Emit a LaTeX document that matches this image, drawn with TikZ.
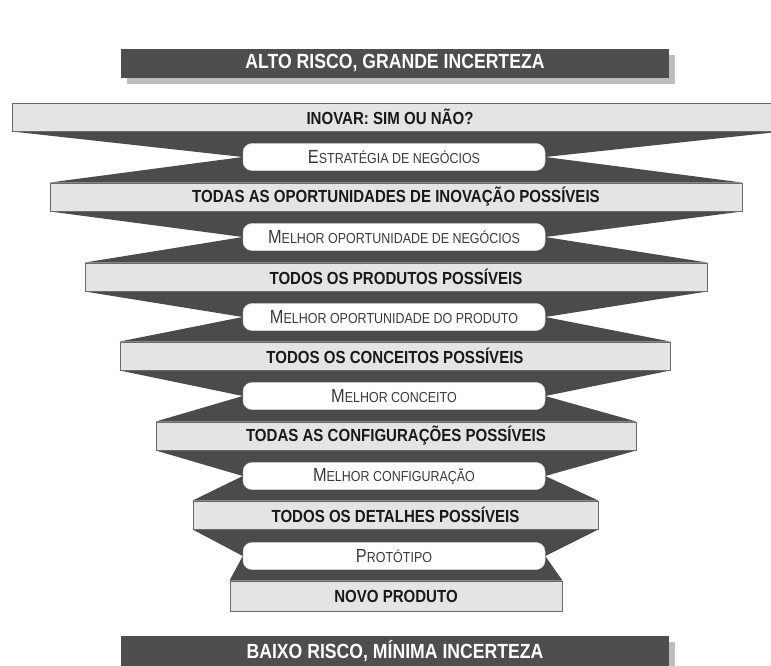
\documentclass[tikz,border=0pt]{standalone}
\usepackage{fontspec}
\setmainfont{Liberation Sans}
\newfontfamily\condfont{Liberation Sans}[FakeStretch=0.86]
\usetikzlibrary{shadows}
\definecolor{darkwedge}{HTML}{4B4B4B}
\definecolor{bandfill}{HTML}{E4E4E4}
\definecolor{bandline}{HTML}{6A6A6A}
\definecolor{bannerfill}{HTML}{4E4E4E}
\definecolor{shadowgray}{HTML}{BDBDBD}
\definecolor{pilltext}{HTML}{3A3A3A}
\pgfdeclarelayer{bg}
\pgfsetlayers{bg,main}
\newcommand\sctext[2]{{\fontsize{19}{19}\selectfont #1}{\fontsize{14.5}{14.5}\selectfont #2}}
\begin{document}
\begin{tikzpicture}[x=1pt,y=-1pt,
  band/.style={draw=bandline, line width=0.9pt, fill=bandfill, inner sep=0pt,
    minimum height=28pt, font=\condfont\fontsize{17.5}{18}\selectfont\bfseries, text=black!90},
  pill/.style={fill=white, draw=black!15, line width=0.5pt, rounded corners=9pt,
    inner sep=0pt, minimum width=302pt, minimum height=27pt, text=pilltext, font=\condfont},
  bannerbox/.style={fill=bannerfill, inner sep=0pt, minimum width=548pt,
    minimum height=29pt, text=white, font=\condfont\fontsize{20.5}{21}\selectfont\bfseries,
    drop shadow={shadow xshift=6pt, shadow yshift=-6pt, fill=shadowgray, opacity=1}},
  wedge/.style={fill=darkwedge}]
\path[use as bounding box] (0,0) rectangle (771,665);
\begin{pgfonlayer}{bg}
\fill[white] (0,0) rectangle (771,665);
\end{pgfonlayer}

% banners
\node[bannerbox] (top) at (395,63) {ALTO RISCO, GRANDE INCERTEZA};
\node[bannerbox, minimum height=31pt] (bottom) at (395,651) {BAIXO RISCO, MÍNIMA INCERTEZA};

% bands
\node[band, minimum width=770pt] (b1) at (397,117) {\hspace*{-14pt}INOVAR: SIM OU NÃO?};
\node[band, minimum width=692pt] (b2) at (396,197) {TODAS AS OPORTUNIDADES DE INOVAÇÃO POSSÍVEIS};
\node[band, minimum width=622pt] (b3) at (396,277) {TODOS OS PRODUTOS POSSÍVEIS};
\node[band, minimum width=550pt] (b4) at (395,356) {TODOS OS CONCEITOS POSSÍVEIS};
\node[band, minimum width=480pt] (b5) at (396,436) {TODAS AS CONFIGURAÇÕES POSSÍVEIS};
\node[band, minimum width=405pt] (b6) at (395.5,515) {TODOS OS DETALHES POSSÍVEIS};
\node[band, minimum width=332pt, minimum height=30pt] (b7) at (396,596) {NOVO PRODUTO};

% pills
\node[pill] (p1) at (394,157) {\sctext{E}{STRATÉGIA DE NEGÓCIOS}};
\node[pill] (p2) at (394,237) {\sctext{M}{ELHOR OPORTUNIDADE DE NEGÓCIOS}};
\node[pill] (p3) at (394,317) {\sctext{M}{ELHOR OPORTUNIDADE DO PRODUTO}};
\node[pill] (p4) at (394,396) {\sctext{M}{ELHOR CONCEITO}};
\node[pill] (p5) at (394,476) {\sctext{M}{ELHOR CONFIGURAÇÃO}};
\node[pill] (p6) at (394,556) {\sctext{P}{ROTÓTIPO}};

% dark wedges behind
\begin{pgfonlayer}{bg}
\foreach \i/\j in {1/2,2/3,3/4,4/5,5/6,6/7}{
  \fill[wedge] (b\i.south west) -- (b\i.south east) -- (p\i.east)
    -- (b\j.north east) -- (b\j.north west) -- (p\i.west) -- cycle;
}
\end{pgfonlayer}
\end{tikzpicture}
\end{document}
